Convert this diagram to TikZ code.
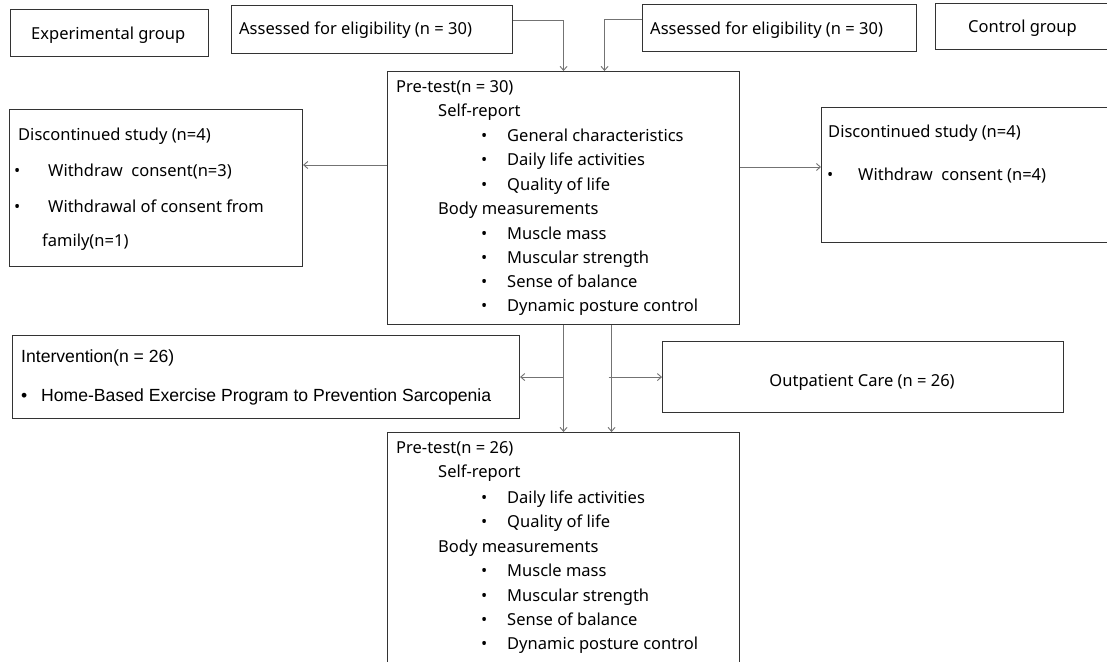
\documentclass[tikz,border=0pt]{standalone}
\usepackage{fontspec}
\setmainfont{Noto Sans}
\newfontfamily\arialf{Liberation Sans}
\usetikzlibrary{arrows.meta,calc}
\newcommand\bul[1]{\makebox[#1][l]{•}}
\begin{document}
\begin{tikzpicture}[x=1pt,y=-1pt,
  box/.style={draw=black!80,line width=1.1pt,inner sep=0pt,anchor=north west},
  conn/.style={draw=black!55,line width=0.9pt},
  arr/.style={conn,-{Straight Barb[length=4pt,width=7pt]}},
  txt/.style={anchor=west,inner sep=0pt,text height=12pt,text depth=3.5pt,font=\fontsize{16.5}{20}\selectfont},
  atxt/.style={anchor=west,inner sep=0pt,text height=12.5pt,text depth=3.5pt,font=\arialf\fontsize{17.6}{20}\selectfont}]
\clip (0,0) rectangle (1107,661);
\fill[white] (0,0) rectangle (1107,661);
% boxes
\node[box,minimum width=198,minimum height=47] (EG) at (10,9) {};
\node[box,minimum width=281,minimum height=48] (A1) at (231,5) {};
\node[box,minimum width=274,minimum height=47] (A2) at (642,4) {};
\node[box,minimum width=200,minimum height=46] (CG) at (935,3) {};
\node[box,minimum width=352,minimum height=253] (P1) at (387,71) {};
\node[box,minimum width=293,minimum height=157] (LD) at (9,109) {};
\node[box,minimum width=300,minimum height=135] (RD) at (821,107) {};
\node[box,minimum width=507,minimum height=83] (IV) at (12,335) {};
\node[box,minimum width=401,minimum height=71] (OC) at (662,341) {};
\node[box,minimum width=352,minimum height=260] (P2) at (387,432) {};
% top texts
\node[txt] (tEG) at (31,35) {Experimental group};
\node[txt] (tA1) at (239,30) {Assessed for eligibility (n = 30)};
\node[txt] (tA2) at (650,30) {Assessed for eligibility (n = 30)};
\node[txt] (tCG) at (968,28) {Control group};
% pre-test 1
\node[txt] (p1a) at (396,88) {Pre-test(n = 30)};
\node[txt] (p1b) at (438,112) {Self-report};
\node[txt] (p1c) at (481,137) {\bul{26pt}General characteristics};
\node[txt] (p1d) at (481,161) {\bul{26pt}Daily life activities};
\node[txt] (p1e) at (481,186) {\bul{26pt}Quality of life};
\node[txt] (p1f) at (438,210) {Body measurements};
\node[txt] (p1g) at (481,235) {\bul{26pt}Muscle mass};
\node[txt] (p1h) at (481,259) {\bul{26pt}Muscular strength};
\node[txt] (p1i) at (481,283) {\bul{26pt}Sense of balance};
\node[txt] (p1j) at (481,307) {\bul{26pt}Dynamic posture control};
% left discontinued
\node[txt] (ld1) at (18,136) {Discontinued study (n=4)};
\node[txt] (ld2) at (14,172) {\bul{34pt}Withdraw\ \ consent(n=3)};
\node[txt] (ld3) at (14,208) {\bul{34pt}Withdrawal of consent from};
\node[txt] (ld4) at (42,242) {family(n=1)};
% right discontinued
\node[txt] (rd1) at (828,133) {Discontinued study (n=4)};
\node[txt] (rd2) at (827,176) {\bul{31pt}Withdraw\ \ consent (n=4)};
% intervention
\node[atxt] (iv1) at (21,358) {Intervention(n = 26)};
\node[atxt] (iv2) at (21,397) {\bul{20pt}Home-Based Exercise Program to Prevention Sarcopenia};
% outpatient
\node[txt,anchor=center] (oc1) at ($(OC.center)+(-1,5)$) {Outpatient Care (n = 26)};
% pre-test 2
\node[txt] (p2a) at (396,449) {Pre-test(n = 26)};
\node[txt] (p2b) at (438,473) {Self-report};
\node[txt] (p2c) at (481,499) {\bul{26pt}Daily life activities};
\node[txt] (p2d) at (481,523) {\bul{26pt}Quality of life};
\node[txt] (p2e) at (438,548) {Body measurements};
\node[txt] (p2f) at (481,572) {\bul{26pt}Muscle mass};
\node[txt] (p2g) at (481,597) {\bul{26pt}Muscular strength};
\node[txt] (p2h) at (481,621) {\bul{26pt}Sense of balance};
\node[txt] (p2i) at (481,645) {\bul{26pt}Dynamic posture control};
% connectors
\draw[arr] ($(A1.north east)+(0,15)$) -| (P1.north);
\draw[arr] ($(A2.north west)+(0,15)$) -| ($(P1.north)+(41,0)$);
\draw[arr] ($(P1.north west)+(0,94)$) -- ($(LD.north east)+(0,56)$);
\draw[arr] ($(P1.north east)+(0,96)$) -- ($(RD.north west)+(0,60)$);
\draw[arr] (P1.south) -- (P2.north);
\draw[arr] ($(P1.south)+(48,0)$) -- ($(P2.north)+(48,0)$);
\draw[arr] (P1.south |- IV.east) -- (IV.east);
\draw[arr] ($(P1.south |- OC.west)+(45,0)$) -- (OC.west);
\end{tikzpicture}
\end{document}
